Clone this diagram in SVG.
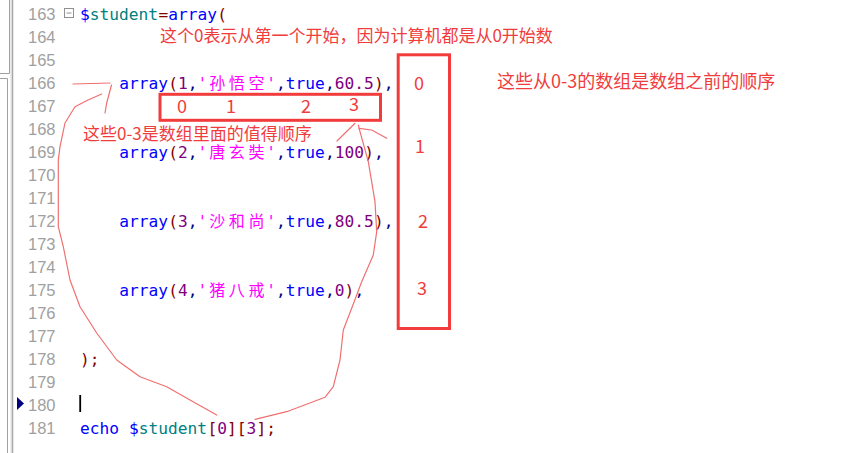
<svg xmlns="http://www.w3.org/2000/svg" width="842" height="453" viewBox="0 0 842 453">
<style>
.ln{font-family:"Liberation Sans","DejaVu Sans",sans-serif;font-size:16.5px;fill:#a0a0a0;text-anchor:end}
.code{font-family:"DejaVu Sans Mono","Liberation Mono",monospace;font-size:16.2px}
.cjk{font-family:"Noto Sans CJK SC",sans-serif;font-size:16px;fill:#ff00ff}
.kw{fill:#0000ff}.var{fill:#008080}.op{fill:#800000}.num{fill:#800080}.str{fill:#ff00ff}.pn{fill:#000080}
.note{font-family:"Noto Sans CJK SC","Noto Sans",sans-serif;fill:#f03c3c}
.box{fill:none;stroke:#f23c3c;stroke-width:3}
.ink{fill:none;stroke:#f07070;stroke-width:1.2;stroke-linejoin:round;stroke-linecap:round}
.gut{stroke:#a0a0a0;stroke-width:1;fill:none}
</style>
<rect width="842" height="453" fill="#ffffff"/>
<g id="gutter">
<rect x="10" y="0" width="2" height="453" fill="#eeeeee"/>
<path class="gut" d="M9.5,0V73.5H0M0,78.5H7.5V453"/>
<path d="M12.5,0V453" stroke="#a8a8a8" stroke-width="1.5"/>
<rect x="64.5" y="8.5" width="9" height="9" fill="none" stroke="#909090" stroke-width="1"/>
<path d="M66.5,13H71.5" stroke="#909090" stroke-width="1"/>
<polygon points="17,397 24,403.5 17,410" fill="#000080"/>
</g>
<g id="line-numbers">
<text class="ln" x="55.5" y="19.5">163</text>
<text class="ln" x="55.5" y="42.55">164</text>
<text class="ln" x="55.5" y="65.6">165</text>
<text class="ln" x="55.5" y="88.65">166</text>
<text class="ln" x="55.5" y="111.7">167</text>
<text class="ln" x="55.5" y="134.75">168</text>
<text class="ln" x="55.5" y="157.8">169</text>
<text class="ln" x="55.5" y="180.85">170</text>
<text class="ln" x="55.5" y="203.9">171</text>
<text class="ln" x="55.5" y="226.95">172</text>
<text class="ln" x="55.5" y="250">173</text>
<text class="ln" x="55.5" y="273.05">174</text>
<text class="ln" x="55.5" y="296.1">175</text>
<text class="ln" x="55.5" y="319.15">176</text>
<text class="ln" x="55.5" y="342.2">177</text>
<text class="ln" x="55.5" y="365.25">178</text>
<text class="ln" x="55.5" y="388.3">179</text>
<text class="ln" x="55.5" y="411.35">180</text>
<text class="ln" x="55.5" y="434.4">181</text>
</g>
<g id="code">
<text class="code" y="19.5"><tspan class="kw" x="80">$</tspan><tspan class="var" x="89.8">student</tspan><tspan class="op" x="158.4">=</tspan><tspan class="kw" x="168.2">array</tspan><tspan class="op" x="217.2">(</tspan></text>
<text class="code" y="88.65"><tspan class="kw" x="119.2">array</tspan><tspan class="op" x="168.2">(</tspan><tspan class="num" x="178">1</tspan><tspan class="pn" x="187.8">,</tspan><tspan class="str" x="197.6">'</tspan><tspan class="str" x="266.2">'</tspan><tspan class="pn" x="276">,</tspan><tspan class="kw" x="285.8">true</tspan><tspan class="pn" x="325">,</tspan><tspan class="num" x="334.8">60.5</tspan><tspan class="op" x="374">)</tspan><tspan class="pn" x="383.8">,</tspan></text>
<text class="cjk" y="88.65" x="209.2 228.8 248.4">孙悟空</text>
<text class="code" y="157.8"><tspan class="kw" x="119.2">array</tspan><tspan class="op" x="168.2">(</tspan><tspan class="num" x="178">2</tspan><tspan class="pn" x="187.8">,</tspan><tspan class="str" x="197.6">'</tspan><tspan class="str" x="266.2">'</tspan><tspan class="pn" x="276">,</tspan><tspan class="kw" x="285.8">true</tspan><tspan class="pn" x="325">,</tspan><tspan class="num" x="334.8">100</tspan><tspan class="op" x="364.2">)</tspan><tspan class="pn" x="374">,</tspan></text>
<text class="cjk" y="157.8" x="209.2 228.8 248.4">唐玄奘</text>
<text class="code" y="226.95"><tspan class="kw" x="119.2">array</tspan><tspan class="op" x="168.2">(</tspan><tspan class="num" x="178">3</tspan><tspan class="pn" x="187.8">,</tspan><tspan class="str" x="197.6">'</tspan><tspan class="str" x="266.2">'</tspan><tspan class="pn" x="276">,</tspan><tspan class="kw" x="285.8">true</tspan><tspan class="pn" x="325">,</tspan><tspan class="num" x="334.8">80.5</tspan><tspan class="op" x="374">)</tspan><tspan class="pn" x="383.8">,</tspan></text>
<text class="cjk" y="226.95" x="209.2 228.8 248.4">沙和尚</text>
<text class="code" y="296.1"><tspan class="kw" x="119.2">array</tspan><tspan class="op" x="168.2">(</tspan><tspan class="num" x="178">4</tspan><tspan class="pn" x="187.8">,</tspan><tspan class="str" x="197.6">'</tspan><tspan class="str" x="266.2">'</tspan><tspan class="pn" x="276">,</tspan><tspan class="kw" x="285.8">true</tspan><tspan class="pn" x="325">,</tspan><tspan class="num" x="334.8">0</tspan><tspan class="op" x="344.6">)</tspan><tspan class="pn" x="354.4">,</tspan></text>
<text class="cjk" y="296.1" x="209.2 228.8 248.4">猪八戒</text>
<text class="code" y="365.25"><tspan class="op" x="80">)</tspan><tspan class="op" x="89.8">;</tspan></text>
<rect x="79.3" y="395" width="1.8" height="17" fill="#000000"/>
<text class="code" y="434.4"><tspan class="kw" x="80">echo</tspan><tspan class="kw" x="129">$</tspan><tspan class="var" x="138.8">student</tspan><tspan class="op" x="207.4">[</tspan><tspan class="num" x="217.2">0</tspan><tspan class="op" x="227">]</tspan><tspan class="op" x="236.8">[</tspan><tspan class="num" x="246.6">3</tspan><tspan class="op" x="256.4">]</tspan><tspan class="op" x="266.2">;</tspan></text>
</g>
<g id="note-top"><text class="note" x="160" y="42" font-size="17">这个0表示从第一个开始，因为计算机都是从0开始数</text></g>
<g id="box-inner">
<rect class="box" x="160" y="94.3" width="220.5" height="26"/>
<text class="note" font-size="18" x="177" y="113">0</text>
<text class="note" font-size="18" x="226" y="113">1</text>
<text class="note" font-size="18" x="301" y="113">2</text>
<text class="note" font-size="18" x="349" y="110.5">3</text>
</g>
<g id="note-inner"><text class="note" x="83" y="140" font-size="17">这些0-3是数组里面的值得顺序</text></g>
<g id="box-outer">
<rect class="box" x="398.2" y="54.8" width="51.3" height="273.7"/>
<text class="note" font-size="18" x="414" y="90">0</text>
<text class="note" font-size="18" x="415" y="153">1</text>
<text class="note" font-size="18" x="418" y="228">2</text>
<text class="note" font-size="18" x="417" y="295">3</text>
</g>
<g id="note-outer"><text class="note" x="497" y="88" font-size="18">这些从0-3的数组是数组之前的顺序</text></g>
<g id="connectors">
<path class="ink" stroke-width="1.6" stroke="#f49a9a" d="M73,84L110,83"/>
<path class="ink" d="M111.5,85L106.7,103L105,113"/>
<path class="ink" d="M101.7,94L88,100L75,106.7L65,123L60,146.7L58.3,160L58.3,226.7L63.3,246.7L70,280L80,306.7L96.7,333L116.7,360L140,376.7L166.7,386.7L190,400L216.7,415"/>
<path class="ink" d="M255,419.3L286.7,411.7L325,397.3L333.3,386.7L340,360L343.3,330L351.7,308.3L361.7,281.7L373.3,255L376.7,231.7L375,201.7L368.3,161.7L360,131.7L358.3,125"/>
<path class="ink" d="M337,141L355,123.3"/>
<path class="ink" d="M359,128.3L371.7,130L386.7,138.3"/>
</g>
</svg>
